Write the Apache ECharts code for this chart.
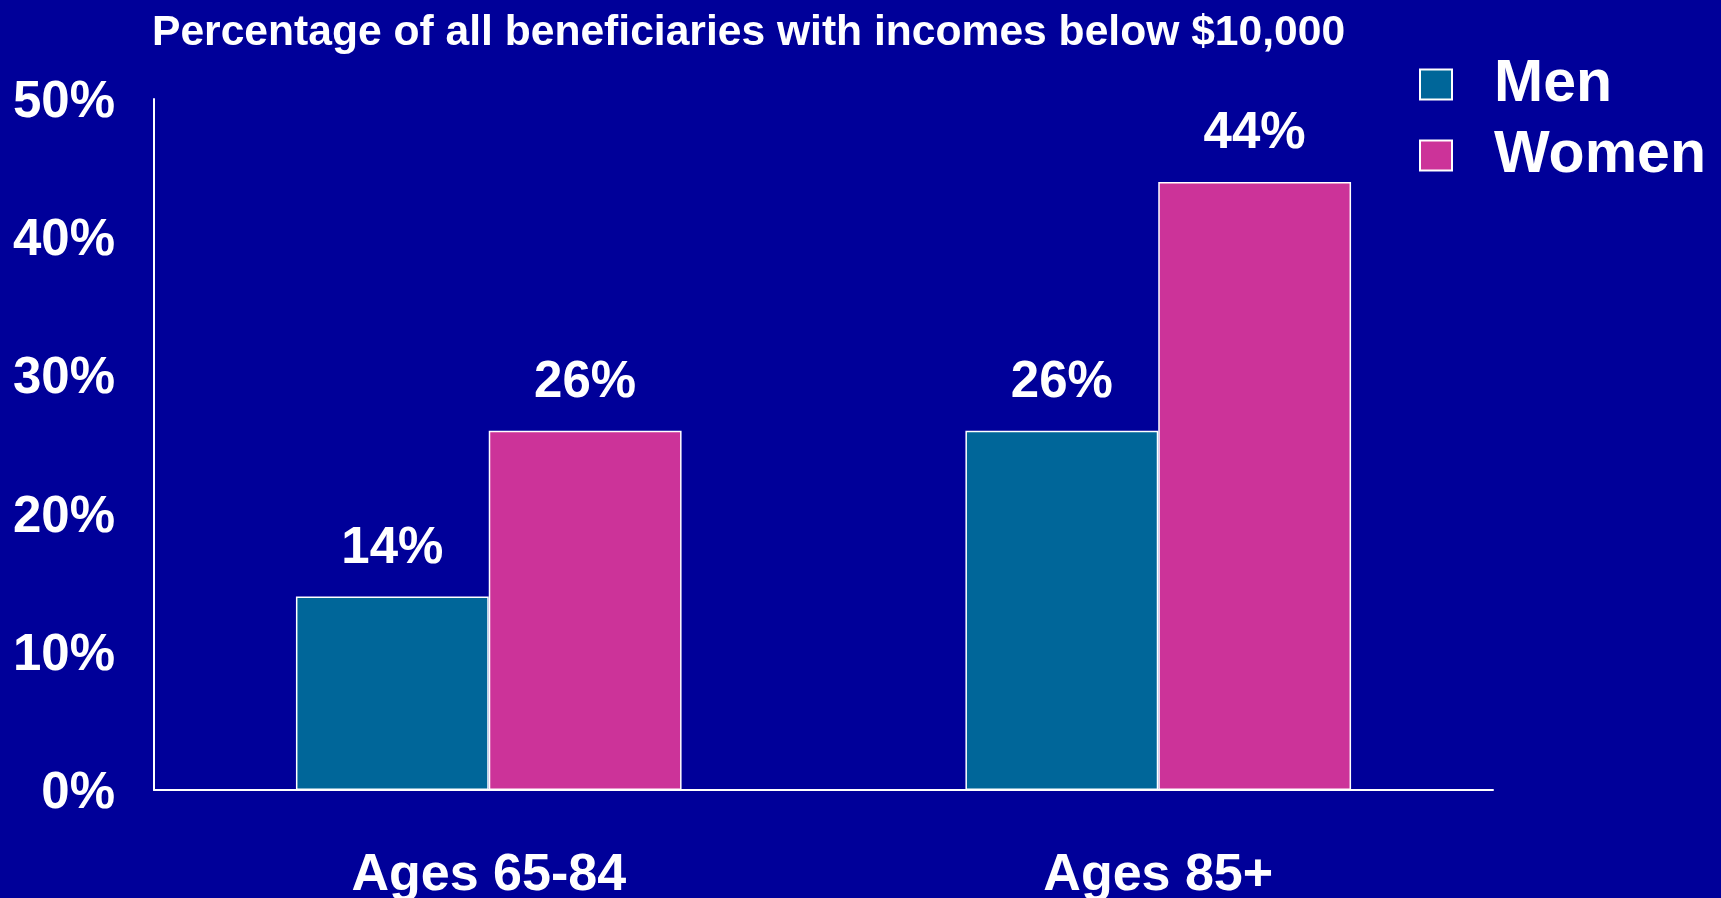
<!DOCTYPE html>
<html>
<head>
<meta charset="utf-8">
<script src="https://cdn.jsdelivr.net/npm/echarts@6/dist/echarts.min.js"></script>
<style>
html,body{margin:0;padding:0;background:#000099;}
#c{width:1721px;height:898px;}
</style>
</head>
<body>
<div id="c"></div>
<script>
const categories = ['Ages 65-84', 'Ages 85+'];
const seriesNames = ['Men', 'Women'];
const menValues = [14, 26];
const womenValues = [26, 44];
const yTicks = [0, 10, 20, 30, 40, 50];

const FONT = '"Liberation Sans", Arial, sans-serif';
const chart = echarts.init(document.getElementById('c'), null, {renderer: 'canvas'});

const labelStyle = {
  show: true,
  position: 'top',
  distance: 22,
  formatter: '{c}%',
  color: '#ffffff',
  fontFamily: FONT,
  fontWeight: 'bold',
  fontSize: 51,
  lineHeight: 51
};

chart.setOption({
  backgroundColor: '#000099',
  animation: false,
  title: {
    text: 'Percentage of all beneficiaries with incomes below $10,000',
    left: 147,
    top: 7,
    textStyle: {color: '#ffffff', fontFamily: FONT, fontWeight: 'bold', fontSize: 42.6}
  },
  legend: {
    data: seriesNames,
    orient: 'vertical',
    left: 1414,
    top: 50,
    icon: 'rect',
    itemWidth: 32,
    itemHeight: 30,
    itemGap: 12,
    textStyle: {color: '#ffffff', fontFamily: FONT, fontWeight: 'bold', fontSize: 59, lineHeight: 59, padding: [0, 0, 0, 37]}
  },
  grid: {left: 154, right: 228, top: 99, bottom: 108, outerBoundsMode: 'none', containLabel: false},
  xAxis: {
    type: 'category',
    data: categories,
    axisLine: {show: true, lineStyle: {color: '#ffffff', width: 2}},
    axisTick: {show: false},
    axisLabel: {color: '#ffffff', fontFamily: FONT, fontWeight: 'bold', fontSize: 52, lineHeight: 52, margin: 60}
  },
  yAxis: {
    type: 'value',
    min: yTicks[0],
    max: yTicks[yTicks.length - 1],
    interval: yTicks[1] - yTicks[0],
    axisLine: {show: true, lineStyle: {color: '#ffffff', width: 2}},
    axisTick: {show: false},
    splitLine: {show: false},
    axisLabel: {color: '#ffffff', fontFamily: FONT, fontWeight: 'bold', fontSize: 51, margin: 39, verticalAlign: 'top', lineHeight: 8, formatter: '{value}%'}
  },
  series: [
    {
      name: seriesNames[0],
      type: 'bar',
      data: menValues,
      barWidth: '28.8%',
      barGap: '0%',
      itemStyle: {color: '#006699', borderColor: '#ffffff', borderWidth: 1.5},
      label: labelStyle
    },
    {
      name: seriesNames[1],
      type: 'bar',
      data: womenValues,
      barWidth: '28.8%',
      barGap: '0%',
      itemStyle: {color: '#CC3399', borderColor: '#ffffff', borderWidth: 1.5},
      label: labelStyle
    }
  ]
});
</script>
</body>
</html>
